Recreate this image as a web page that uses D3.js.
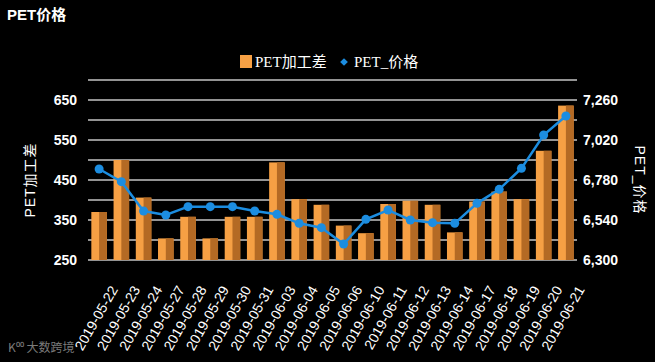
<!DOCTYPE html>
<html>
<head>
<meta charset="utf-8">
<script src="https://cdn.jsdelivr.net/npm/d3@7"></script>
<style>
  body { margin: 0; background: #000; }
  svg { display: block; }
</style>
</head>
<body>
<div id="chart"></div>
<script>
// categories and series
var dates = ['2019-05-22', '2019-05-23', '2019-05-24', '2019-05-27', '2019-05-28', '2019-05-29',
    '2019-05-30', '2019-05-31', '2019-06-03', '2019-06-04', '2019-06-05', '2019-06-06',
    '2019-06-10', '2019-06-11', '2019-06-12', '2019-06-13', '2019-06-14', '2019-06-17',
    '2019-06-18', '2019-06-19', '2019-06-20', '2019-06-21'];
var spread = [370, 500, 406, 304, 358, 304, 358, 358, 494, 402, 388, 336,
    317, 390, 398, 388, 319, 396, 421, 402, 523, 636];
var price = [6846, 6770, 6594, 6570, 6620, 6620, 6620, 6594, 6574, 6520, 6494, 6396,
    6544, 6600, 6540, 6524, 6520, 6640, 6724, 6850, 7050, 7164];
var leftTicks = [250, 350, 450, 550, 650];
var rightTicks = [6300, 6540, 6780, 7020, 7260];

var W = 655, H = 362;
var margin = {left: 88, right: 78, top: 80, bottom: 102};

var svg = d3.select('#chart').append('svg')
    .attr('width', W)
    .attr('height', H)
    .style('background', '#000');

var x = d3.scaleBand()
    .domain(dates)
    .range([margin.left, W - margin.right])
    .paddingInner(0.3)
    .paddingOuter(0.15);

var yL = d3.scaleLinear().domain([250, 700]).range([H - margin.bottom, margin.top]);
var yR = d3.scaleLinear().domain([6300, 7380]).range([H - margin.bottom, margin.top]);

// grid lines every 50 on the left scale
svg.append('g')
    .selectAll('line')
    .data(d3.range(250, 701, 50))
    .enter()
    .append('line')
    .attr('x1', margin.left)
    .attr('x2', W - margin.right)
    .attr('y1', function (d) { return yL(d); })
    .attr('y2', function (d) { return yL(d); })
    .attr('stroke', '#c4c4c4')
    .attr('stroke-width', 1.5);

// bars, lighter left half and darker right half
var bars = svg.append('g').selectAll('g')
    .data(dates)
    .enter()
    .append('g');

bars.append('rect')
    .attr('x', function (d) { return x(d); })
    .attr('y', function (d, i) { return yL(spread[i]); })
    .attr('width', x.bandwidth())
    .attr('height', function (d, i) { return yL(250) - yL(spread[i]); })
    .attr('fill', '#f6a044');

bars.append('rect')
    .attr('x', function (d) { return x(d) + x.bandwidth() * 0.5; })
    .attr('y', function (d, i) { return yL(spread[i]); })
    .attr('width', x.bandwidth() * 0.5)
    .attr('height', function (d, i) { return yL(250) - yL(spread[i]); })
    .attr('fill', '#b46a24');

// price line
var line = d3.line()
    .x(function (d, i) { return x(dates[i]) + x.bandwidth() / 2; })
    .y(function (d) { return yR(d); });

svg.append('path')
    .datum(price)
    .attr('d', line)
    .attr('fill', 'none')
    .attr('stroke', '#1c8de0')
    .attr('stroke-width', 2.5);

svg.append('g').selectAll('circle')
    .data(price)
    .enter()
    .append('circle')
    .attr('cx', function (d, i) { return x(dates[i]) + x.bandwidth() / 2; })
    .attr('cy', function (d) { return yR(d); })
    .attr('r', 4.5)
    .attr('fill', '#1c8de0');

// axes
var axisL = svg.append('g')
    .attr('transform', 'translate(' + (margin.left - 8) + ',0)')
    .call(d3.axisLeft(yL).tickValues(leftTicks).tickSize(0).tickFormat(d3.format('d')));
var axisR = svg.append('g')
    .attr('transform', 'translate(' + (W - margin.right + 3) + ',0)')
    .call(d3.axisRight(yR).tickValues(rightTicks).tickSize(0).tickFormat(d3.format(',d')));

[axisL, axisR].forEach(function (a) {
    a.select('.domain').remove();
    a.selectAll('text')
        .attr('fill', '#fff')
        .style('font-family', 'Liberation Sans, Arial, sans-serif')
        .style('font-size', '14px')
        .style('font-weight', 'bold');
});

var axisX = svg.append('g')
    .attr('transform', 'translate(0,' + (H - margin.bottom) + ')')
    .call(d3.axisBottom(x).tickSize(0));
axisX.select('.domain').remove();
axisX.selectAll('text')
    .attr('fill', '#fff')
    .attr('text-anchor', 'end')
    .attr('transform', 'translate(15,27) rotate(-60)')
    .attr('dy', '0.35em')
    .attr('y', 0)
    .style('font-family', 'Liberation Sans, Arial, sans-serif')
    .style('font-size', '14px');

// axis titles
svg.append('text')
    .attr('transform', 'translate(30,' + yL(450) + ') rotate(-90)')
    .attr('text-anchor', 'middle')
    .attr('dy', '0.35em')
    .attr('fill', '#fff')
    .style('font-family', 'Liberation Sans, Noto Sans CJK SC, sans-serif')
    .style('font-size', '14px')
    .style('letter-spacing', '1px')
    .text('PET加工差');

svg.append('text')
    .attr('transform', 'translate(640,' + yL(450) + ') rotate(90)')
    .attr('text-anchor', 'middle')
    .attr('dy', '0.35em')
    .attr('fill', '#fff')
    .style('font-family', 'Liberation Sans, Noto Sans CJK SC, sans-serif')
    .style('font-size', '14px')
    .style('letter-spacing', '1px')
    .text('PET_价格');

// title
svg.append('text')
    .attr('x', 7)
    .attr('y', 20)
    .attr('fill', '#fff')
    .style('font-family', 'Liberation Sans, Noto Sans CJK SC, sans-serif')
    .style('font-size', '15px')
    .style('font-weight', 'bold')
    .text('PET价格');

// legend
var legend = svg.append('g').attr('transform', 'translate(240,62)');
legend.append('rect')
    .attr('x', 0).attr('y', -7)
    .attr('width', 12).attr('height', 13)
    .attr('fill', '#f6a044');
legend.append('text')
    .attr('x', 15).attr('dy', '0.35em')
    .attr('fill', '#fff')
    .style('font-family', 'Liberation Serif, Noto Sans CJK SC, serif')
    .style('font-size', '15px')
    .text('PET加工差');
legend.append('path')
    .attr('d', d3.symbol().type(d3.symbolSquare).size(30)())
    .attr('transform', 'translate(104,0) rotate(45)')
    .attr('fill', '#1c8de0');
legend.append('text')
    .attr('x', 114).attr('dy', '0.35em')
    .attr('fill', '#fff')
    .style('font-family', 'Liberation Serif, Noto Sans CJK SC, serif')
    .style('font-size', '15px')
    .text('PET_价格');

// watermark
svg.append('text')
    .attr('x', 8)
    .attr('y', 352)
    .attr('fill', '#999')
    .attr('opacity', 0.8)
    .style('font-family', 'Noto Sans CJK SC, sans-serif')
    .style('font-size', '12px')
    .text('K⁰⁰ 大数跨境');
</script>
</body>
</html>
